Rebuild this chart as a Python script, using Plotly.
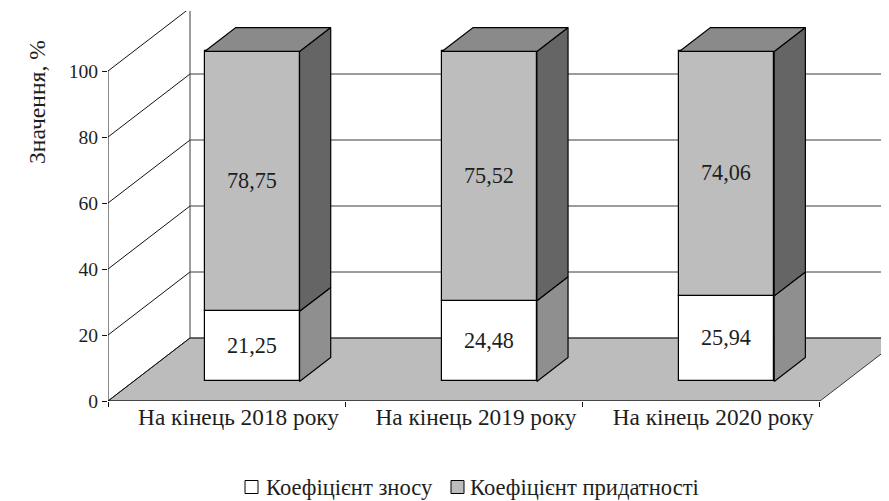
import plotly.graph_objects as go

categories = ["На кінець 2018 року", "На кінець 2019 року", "На кінець 2020 року"]
wear = [21.25, 24.48, 25.94]          # Коефіцієнт зносу
fitness = [78.75, 75.52, 74.06]       # Коефіцієнт придатності
y_ticks = [0, 20, 40, 60, 80, 100]
series_names = ["Коефіцієнт зносу", "Коефіцієнт придатності"]

FONT = "Liberation Serif"
OFF = 8                      # page body margin
W, H = 889, 493
ML, MR, MT, MB = 100, 0, 3, 100
PW, PH = W - ML - MR, H - MT - MB
KX = 237.33   # px per category unit
KY = 3.30     # px per value unit
DX = 82 / KX  # full depth in x units
DY = 63 / KY  # full depth in y units
D0, D1 = 0.31, 0.69   # bar front/back depth fraction
BW = 0.40

x_min = -0.5
x_max = x_min + PW / KX
y_max = PH / KY
n = len(categories)
xl_axis, xr_axis = -0.5, n - 0.5

def px_x(sx):  # screen px -> paper x
    return (sx - OFF - ML) / PW

def px_y(sy):  # screen px -> paper y
    return (MT + PH - (sy - OFF)) / PH

def fnt(size, color="#1e1e1e"):
    return dict(family=FONT, size=size, color=color)

wall_line = "#3a3a3a"
c_floor = "#bcbcbc"
c_front_hi = "#bdbdbd"
c_top = "#8a8a8a"
c_side_hi = "#656565"
c_side_lo = "#8f8f8f"

fig = go.Figure()
shapes = []
shapes.append(dict(type="path", layer="below", xref="x", yref="y",
                   path=f"M{xl_axis},0 L{xr_axis},0 L{xr_axis+DX},{DY} L{xl_axis+DX},{DY} Z",
                   fillcolor=c_floor, line=dict(color=wall_line, width=1)))
for v in y_ticks:
    shapes.append(dict(type="line", layer="below", xref="x", yref="y",
                       x0=xl_axis + DX, y0=v + DY, x1=xr_axis + DX, y1=v + DY,
                       line=dict(color=wall_line, width=1)))
    shapes.append(dict(type="line", layer="below", xref="x", yref="y",
                       x0=xl_axis, y0=v, x1=xl_axis + DX, y1=v + DY,
                       line=dict(color="#111111", width=1)))
shapes.append(dict(type="line", layer="below", xref="x", yref="y",
                   x0=xl_axis + DX, y0=DY, x1=xl_axis + DX, y1=y_ticks[-1] + DY,
                   line=dict(color=wall_line, width=1)))
shapes.append(dict(type="line", layer="below", xref="x", yref="y",
                   x0=xl_axis, y0=0, x1=xl_axis, y1=y_ticks[-1],
                   line=dict(color="#111111", width=1)))
shapes.append(dict(type="line", layer="above", xref="x", yref="y",
                   x0=xl_axis, y0=0, x1=xr_axis, y1=0,
                   line=dict(color="#111111", width=1.2)))

ox0, oy0 = D0 * DX, D0 * DY
ox1, oy1 = D1 * DX, D1 * DY
xs_front = [i + ox0 for i in range(n)]

fig.add_trace(go.Bar(
    x=xs_front, y=wear, base=[oy0] * n, width=BW, name=series_names[0],
    marker=dict(color="white", line=dict(color="black", width=1.2)),
    text=[f"{v:.2f}".replace(".", ",") for v in wear],
    textposition="inside", insidetextanchor="middle",
    textfont=fnt(22.2), insidetextfont=fnt(22.2), constraintext="none",
    showlegend=False,
))
fig.add_trace(go.Bar(
    x=xs_front, y=fitness, base=[oy0 + w for w in wear], width=BW, name=series_names[1],
    marker=dict(color=c_front_hi, line=dict(color="black", width=1.2)),
    text=[f"{v:.2f}".replace(".", ",") for v in fitness],
    textposition="inside", insidetextanchor="middle",
    textfont=fnt(22.2), insidetextfont=fnt(22.2), constraintext="none",
    showlegend=False,
))

def poly(xs, ys, color):
    fig.add_trace(go.Scatter(x=xs + [xs[0]], y=ys + [ys[0]], mode="lines", fill="toself",
                             fillcolor=color, line=dict(color="black", width=1.2),
                             showlegend=False, hoverinfo="skip"))

for i in range(n):
    xl = i - BW / 2
    xr = i + BW / 2
    lo0, lo1 = 0, wear[i]
    hi0, hi1 = wear[i], wear[i] + fitness[i]
    poly([xr + ox0, xr + ox1, xr + ox1, xr + ox0],
         [lo0 + oy0, lo0 + oy1, lo1 + oy1, lo1 + oy0], c_side_lo)
    poly([xr + ox0, xr + ox1, xr + ox1, xr + ox0],
         [hi0 + oy0, hi0 + oy1, hi1 + oy1, hi1 + oy0], c_side_hi)
    poly([xl + ox0, xr + ox0, xr + ox1, xl + ox1],
         [hi1 + oy0, hi1 + oy0, hi1 + oy1, hi1 + oy1], c_top)

# legend (manual, to match spacing of the original)
leg_y = 487
leg_items = [(245, 264, "white"), (451, 468, c_front_hi)]
annotations = []
for (bx, tx, col), name in zip(leg_items, series_names):
    shapes.append(dict(type="rect", xref="paper", yref="paper",
                       x0=px_x(bx), x1=px_x(bx + 13), y0=px_y(leg_y + 6.5), y1=px_y(leg_y - 6.5),
                       fillcolor=col, line=dict(color="black", width=1)))
    annotations.append(dict(text=name, xref="paper", yref="paper", x=px_x(tx), y=px_y(leg_y),
                            xanchor="left", yanchor="middle", showarrow=False,
                            font=fnt(22.6)))
annotations.append(dict(text="Значення, %", xref="paper", yref="paper",
                        x=px_x(37), y=px_y(102), textangle=-90, showarrow=False,
                        font=fnt(23.6), xanchor="center", yanchor="middle"))

fig.update_layout(
    width=W, height=H,
    margin=dict(l=ML, r=MR, t=MT, b=MB, autoexpand=False),
    paper_bgcolor="white", plot_bgcolor="white",
    barmode="overlay", bargap=0,
    shapes=shapes, annotations=annotations,
    font=fnt(21.5),
    xaxis=dict(range=[x_min, x_max], showgrid=False, zeroline=False, showline=False,
               tickmode="array", tickvals=[i + 0.05 for i in range(n)], ticktext=categories,
               ticks="", tickfont=fnt(23.3),
               minor=dict(tickmode="array", tickvals=[k - 0.5 for k in range(n + 1)],
                          ticks="outside", ticklen=5, tickcolor="#111")),
    yaxis=dict(range=[0, y_max], showgrid=False, zeroline=False, showline=False,
               tickmode="array", tickvals=y_ticks, ticks="outside", ticklen=5,
               tickcolor="#111", tickfont=fnt(19.6)),
    showlegend=False,
)

fig.write_html("out.html")
